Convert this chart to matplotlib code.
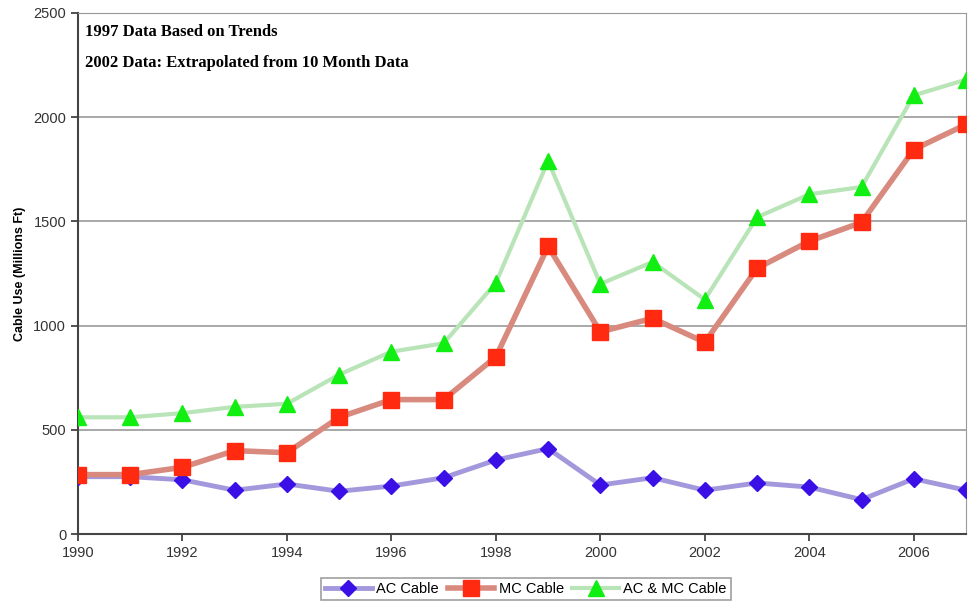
import matplotlib
matplotlib.use("Agg")
import matplotlib.pyplot as plt

years = list(range(1990, 2008))
ac_cable = [275, 275, 260, 210, 240, 205, 230, 270, 355, 410, 235, 270, 210, 245, 225, 165, 265, 210]
mc_cable = [285, 285, 320, 400, 390, 560, 645, 645, 850, 1380, 970, 1035, 920, 1275, 1405, 1495, 1845, 1965]
ac_mc_cable = [560, 560, 580, 610, 625, 765, 875, 915, 1205, 1790, 1200, 1305, 1125, 1520, 1630, 1665, 2105, 2180]
series_names = ["AC Cable", "MC Cable", "AC & MC Cable"]
notes = ["1997 Data Based on Trends", "2002 Data: Extrapolated from 10 Month Data"]

plt.rcParams['font.family'] = ['Liberation Sans', 'DejaVu Sans']

fig = plt.figure(figsize=(9.68, 6.06), dpi=100)
ax = fig.add_axes([78/968, 1-534/606, (966-78)/968, (534-13)/606])

ax.plot(years, ac_cable, color='#a498dc', lw=3.5, marker='D', ms=8,
        mfc='#3a10e6', mec='#3a10e6', label=series_names[0], zorder=3)
ax.plot(years, mc_cable, color='#d98a7e', lw=4, marker='s', ms=11,
        mfc='#ff2a10', mec='#ff2a10', label=series_names[1], zorder=3)
ax.plot(years, ac_mc_cable, color='#b8e4b8', lw=3, marker='^', ms=11,
        mfc='#11ee11', mec='#11ee11', label=series_names[2], zorder=3)

ax.set_xlim(1990, 2007)
ax.set_ylim(0, 2500)
ax.set_xticks(range(1990, 2008, 2))
ax.set_yticks(range(0, 2501, 500))
ax.yaxis.grid(True, color='#999999', lw=1.2)
ax.set_axisbelow(True)
for s in ['top', 'right']:
    ax.spines[s].set_color('#999999')
for s in ['left', 'bottom']:
    ax.spines[s].set_color('#444444')
    ax.spines[s].set_linewidth(1.5)
ax.tick_params(axis='both', labelsize=10.5, colors='#333333', direction='out', length=5, width=1.2)
ax.set_ylabel('Cable Use (Millions Ft)', fontsize=9, fontweight='bold', labelpad=5)

ax.text(0.008, 0.978, notes[0], transform=ax.transAxes, fontsize=12, fontweight='bold',
        family='Liberation Serif', va='top', ha='left')
ax.text(0.008, 0.92, notes[1], transform=ax.transAxes, fontsize=12, fontweight='bold',
        family='Liberation Serif', va='top', ha='left')

leg = fig.legend(loc='center', bbox_to_anchor=(526/968, 1-589/606), ncol=3, frameon=True,
                 fancybox=False, edgecolor='#888888', fontsize=10.5, handlelength=3.2,
                 columnspacing=0.6, handletextpad=0.3, borderpad=0.3)
leg.get_frame().set_linewidth(1.2)

fig.savefig('out.png', dpi=100)
